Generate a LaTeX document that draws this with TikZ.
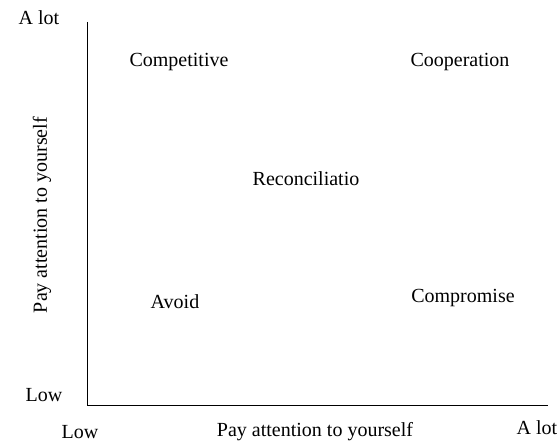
\documentclass[tikz,border=0pt]{standalone}
\usepackage{fontspec}
\setmainfont{Liberation Serif}
\usetikzlibrary{positioning}

\begin{document}
\begin{tikzpicture}[x=1pt, y=-1pt, font=\fontsize{20}{24}\selectfont]
                \useasboundingbox (0,0) rectangle (560,446);

                % Axes
                \coordinate (origin) at (87,405);
                \coordinate (ytop) at (87,22);
                \coordinate (xend) at (548,405);
                \draw[semithick] (ytop) -- (origin) -- (xend);

                % Axis ends
                \node (ylot) at (39,18) {A lot};
                \node (ylow) at (44,395) {Low};
                \node (xlow) at (80,432) {Low};
                \node (xlot) at (537,428) {A lot};

                % Axis titles
                \node (xtitle) at (315,432) {Pay attention to yourself};
                \node[rotate=90] (ytitle) at (42,215) {Pay attention to yourself};

                % Styles in the four corners and the middle
                \node (compet) at (179,62) {Competitive};
                \node (coop) at (460,62) {Cooperation};
                \node (recon) at (306,179) {Reconciliatio};
                \node (avoid) at (175,302) {Avoid};
                \node (compro) at (463,298) {Compromise};
            \end{tikzpicture}
\end{document}
